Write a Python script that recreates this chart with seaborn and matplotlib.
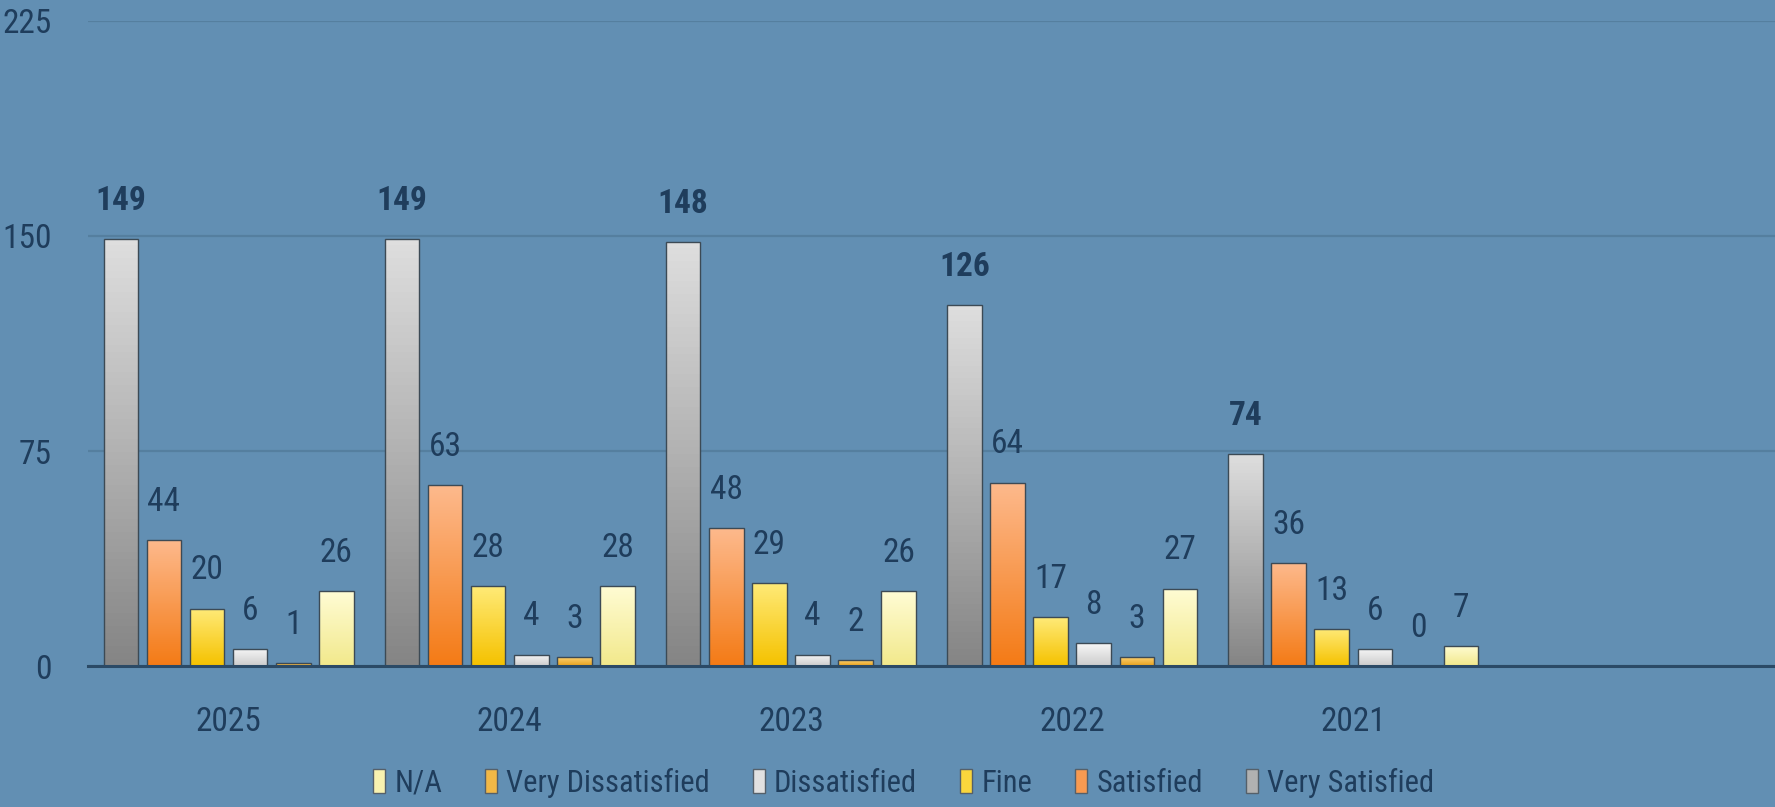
import numpy as np
import pandas as pd
import matplotlib.pyplot as plt
import seaborn as sns
from matplotlib import font_manager
from matplotlib.patches import Patch

years = ["2025", "2024", "2023", "2022", "2021"]
series = ["Very Satisfied", "Satisfied", "Fine", "Dissatisfied", "Very Dissatisfied", "N/A"]
very_satisfied = [149, 149, 148, 126, 74]
satisfied = [44, 63, 48, 64, 36]
fine = [20, 28, 29, 17, 13]
dissatisfied = [6, 4, 4, 8, 6]
very_dissatisfied = [1, 3, 2, 3, 0]
not_applicable = [26, 28, 26, 27, 7]

# top / bottom colours of each bar gradient
grad = {
    "Very Satisfied": ("#dedede", "#858585"),
    "Satisfied": ("#fdb98c", "#f47b16"),
    "Fine": ("#ffea78", "#f5c200"),
    "Dissatisfied": ("#f7f7f7", "#cccccc"),
    "Very Dissatisfied": ("#fbd070", "#e9a11c"),
    "N/A": ("#fffcd4", "#f2e98c"),
}

BG = "#628fb3"
TXT = "#1f3d5c"

df = pd.DataFrame({
    "year": np.repeat(years, len(series)),
    "series": series * len(years),
    "value": np.ravel(np.column_stack([very_satisfied, satisfied, fine, dissatisfied,
                                       very_dissatisfied, not_applicable])),
})

# pick a narrow face if one is there
installed = {f.name for f in font_manager.fontManager.ttflist}
narrow = [f for f in ["Liberation Sans Narrow", "Roboto Condensed", "Open Sans Condensed",
                      "DejaVu Sans Condensed", "Lato"] if f in installed]
family = narrow[0] if narrow else "DejaVu Sans"

sns.set_style("white")
plt.rcParams["font.family"] = [family, "DejaVu Sans"]
if family == "DejaVu Sans Condensed":
    plt.rcParams["font.stretch"] = "condensed"

fig, ax = plt.subplots(figsize=(17.75, 8.07), dpi=100)
fig.patch.set_facecolor(BG)
ax.set_facecolor(BG)
fig.subplots_adjust(left=0.0496, right=1.0, top=0.974, bottom=0.1747)

palette = {k: v[1] for k, v in grad.items()}
sns.barplot(data=df, x="year", y="value", hue="series", hue_order=series,
            order=years, palette=palette, width=0.92, gap=0.2, ax=ax,
            edgecolor="#3c4a55", linewidth=1.0, legend=False, zorder=3)

ax.set_xlim(-0.5, 5.5)
ax.set_ylim(0, 225)
ax.set_yticks([0, 75, 150, 225])
ax.grid(axis="y", color="#557f9f", linewidth=1.6, zorder=0)
ax.set_axisbelow(True)
for s in ["top", "right", "left"]:
    ax.spines[s].set_visible(False)
ax.spines["bottom"].set_color("#2b4a66")
ax.spines["bottom"].set_linewidth(2.2)
ax.spines["bottom"].set_zorder(4)
ax.tick_params(axis="both", length=0, labelsize=24, labelcolor=TXT)
ax.tick_params(axis="x", pad=29)
ax.tick_params(axis="y", pad=26)
ax.set_xlabel("")
ax.set_ylabel("")

# gradient fill and value labels
for cont, name in zip(ax.containers, series):
    top, bottom = grad[name]
    cmap = sns.blend_palette([bottom, top], as_cmap=True)
    for bar in cont:
        h = bar.get_height()
        if h > 0:
            x0 = bar.get_x()
            x1 = x0 + bar.get_width()
            img = ax.imshow(np.linspace(0, 1, 64).reshape(-1, 1), cmap=cmap,
                            extent=[x0, x1, 0, h], origin="lower",
                            aspect="auto", zorder=2.9)
            img.set_clip_path(bar)
            bar.set_facecolor("none")
    bold = name == "Very Satisfied"
    ax.bar_label(cont, fmt="%d", padding=16, fontsize=24, color=TXT,
                 fontweight="bold" if bold else "normal")

ax.set_xlim(-0.5, 5.5)
ax.set_ylim(0, 225)

handles = [Patch(facecolor=sns.blend_palette([grad[n][0], grad[n][1]], 3)[1],
                 edgecolor="#55606a", label=n) for n in series[::-1]]
fig.legend(handles=handles, loc="center", bbox_to_anchor=(0.509, 0.030),
           ncol=6, frameon=False, fontsize=22, labelcolor=TXT,
           handlelength=0.4, handleheight=0.85, handletextpad=0.3,
           columnspacing=1.4)

fig.savefig("out.png", dpi=100, facecolor=BG)
